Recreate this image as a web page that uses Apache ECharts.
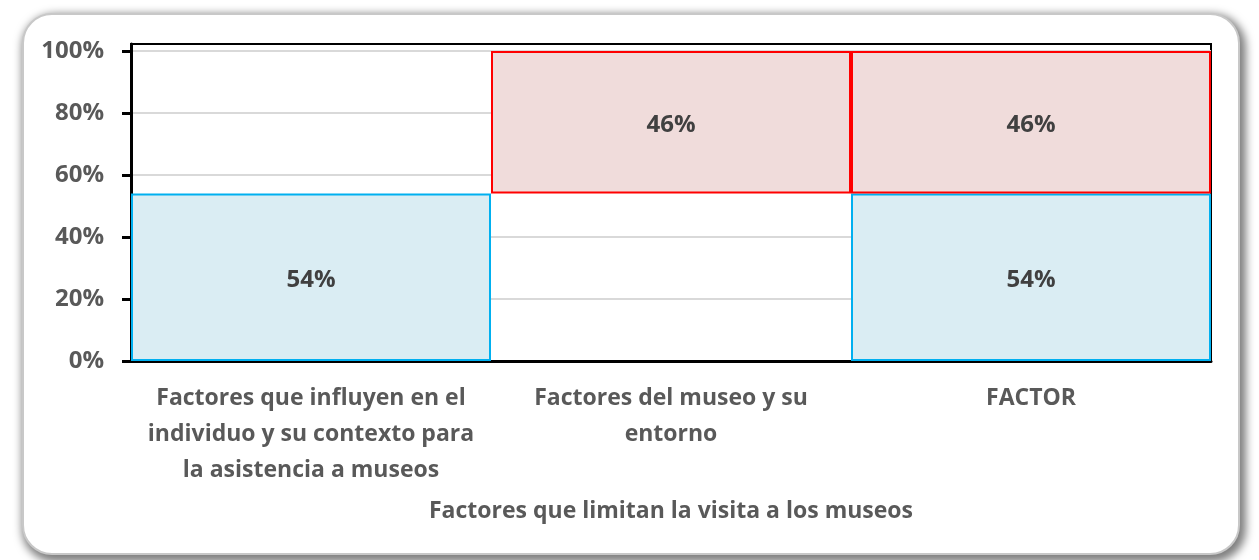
<!DOCTYPE html>
<html>
<head>
<meta charset="utf-8">
<script src="https://cdn.jsdelivr.net/npm/echarts@6/dist/echarts.min.js"></script>
<style>
  html, body { margin: 0; padding: 0; background: #fff; }
  #frame {
    position: absolute; left: 22px; top: 13px; width: 1214px; height: 538px;
    border-radius: 30px; border: 2px solid #c8c8c8; background: #fff;
    box-shadow: 3px 4px 8px 3px rgba(0, 0, 0, 0.5);
  }
  #chart { position: absolute; left: 0; top: 0; width: 1259px; height: 560px; }
</style>
</head>
<body>
<div id="frame"></div>
<div id="chart"></div>
<script>
// categorias y valores (%)
const categories = [
  "Factores que influyen en el\nindividuo y su contexto para\nla asistencia a museos",
  "Factores del museo y su\nentorno",
  "FACTOR"
];
const blueValues = [54, "-", 54];
const gapValues = ["-", 54, "-"]; // hueco sin color en la columna central
const redValues = ["-", 46, 46];
const yTicks = [0, 20, 40, 60, 80, 100];
const axisTitle = "Factores que limitan la visita a los museos";

const font = "'Open Sans', 'Noto Sans', sans-serif";
const chart = echarts.init(document.getElementById("chart"));

chart.setOption({
  animation: false,
  textStyle: { fontFamily: font },
  grid: {
    left: 131, right: 48, top: 44, bottom: 199,
    show: true, borderColor: "#000", borderWidth: 2,
    backgroundColor: "transparent"
  },
  xAxis: {
    type: "category",
    data: categories,
    axisLine: { lineStyle: { color: "#000", width: 3 } },
    axisTick: { show: false },
    axisLabel: {
      interval: 0, margin: 19, color: "#595959", fontWeight: "bold",
      fontSize: 23, lineHeight: 36, fontFamily: font, align: "center"
    },
    name: axisTitle,
    nameLocation: "middle",
    nameGap: 139,
    nameTextStyle: { color: "#595959", fontWeight: "bold", fontSize: 23, fontFamily: font }
  },
  yAxis: {
    type: "value",
    min: 0, max: 102.26,
    interval: 20,
    axisLine: { show: true, lineStyle: { color: "#000", width: 3 } },
    axisTick: { show: true, customValues: yTicks, length: 9, lineStyle: { color: "#000", width: 3 } },
    axisLabel: {
      customValues: yTicks, formatter: "{value}%", margin: 27,
      color: "#595959", fontWeight: "bold", fontSize: 24, fontFamily: font
    },
    splitLine: { lineStyle: { color: "#d9d9d9", width: 2 } }
  },
  series: [
    {
      type: "bar", stack: "t", data: blueValues,
      barCategoryGap: 0, barGap: 0,
      itemStyle: { color: "#daedf3", borderColor: "#00b0f0", borderWidth: 2 },
      label: {
        show: true, position: "inside", formatter: "{c}%", offset: [0, 3],
        color: "#404040", fontWeight: "bold", fontSize: 24, fontFamily: font
      }
    },
    {
      type: "bar", stack: "t", data: gapValues,
      barCategoryGap: 0, barGap: 0,
      itemStyle: { color: "rgba(0,0,0,0)" },
      silent: true
    },
    {
      type: "bar", stack: "t", data: redValues,
      barCategoryGap: 0, barGap: 0,
      itemStyle: { color: "#f0dcdb", borderColor: "#ff0000", borderWidth: 2 },
      label: {
        show: true, position: "inside", formatter: "{c}%", offset: [0, 3],
        color: "#404040", fontWeight: "bold", fontSize: 24, fontFamily: font
      }
    }
  ]
});
</script>
</body>
</html>
